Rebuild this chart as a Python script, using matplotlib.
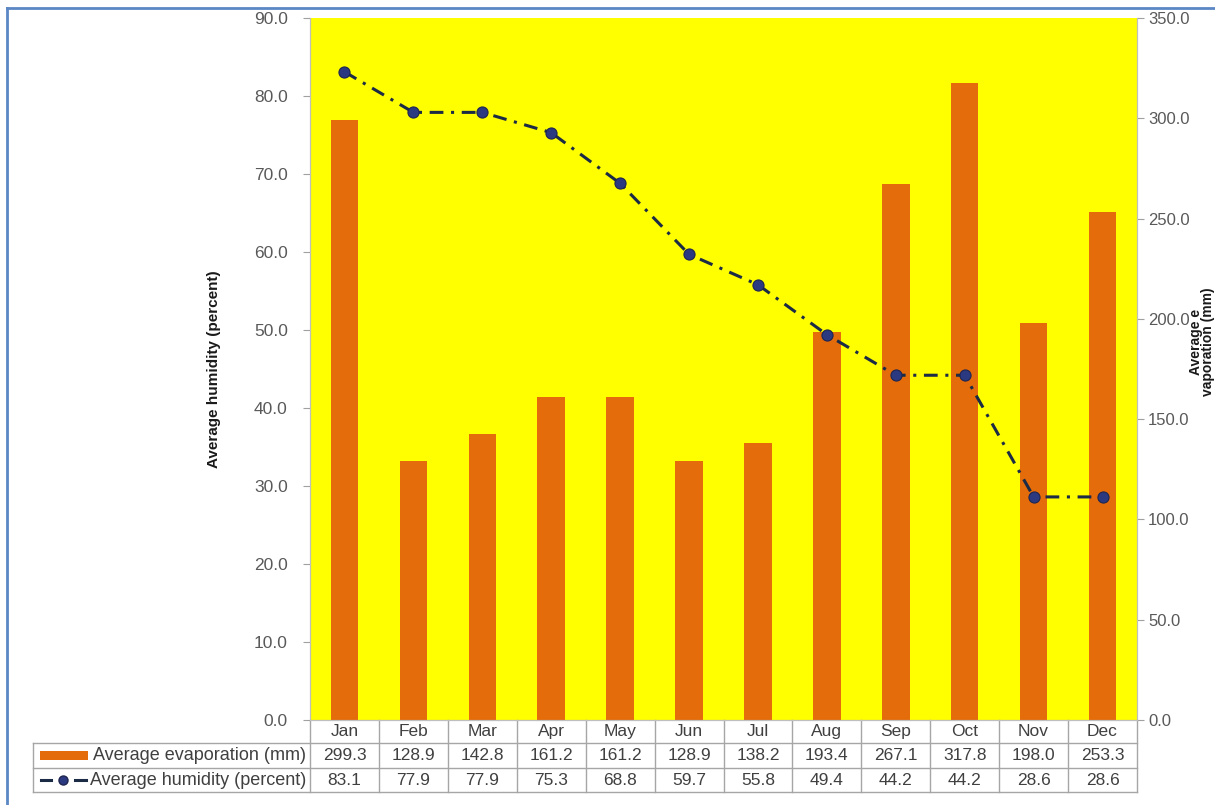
import matplotlib
matplotlib.use("Agg")
import matplotlib.pyplot as plt
from matplotlib.ticker import FormatStrFormatter, MultipleLocator
from matplotlib.transforms import blended_transform_factory
from matplotlib.lines import Line2D
from matplotlib.patches import Rectangle

plt.rcParams['font.family'] = ['Liberation Sans', 'DejaVu Sans']

months = ["Jan", "Feb", "Mar", "Apr", "May", "Jun", "Jul", "Aug", "Sep", "Oct", "Nov", "Dec"]
evaporation = [299.3, 128.9, 142.8, 161.2, 161.2, 128.9, 138.2, 193.4, 267.1, 317.8, 198.0, 253.3]
humidity = [83.1, 77.9, 77.9, 75.3, 68.8, 59.7, 55.8, 49.4, 44.2, 44.2, 28.6, 28.6]
evap_label = "Average evaporation (mm)"
hum_label = "Average humidity (percent)"

W, H = 1215, 805
fig = plt.figure(figsize=(W / 100, H / 100), dpi=100)

def fx(px):
    return px / W

def fy(py):
    return 1 - py / H

BAR_COLOR = "#E46C0A"
LINE_COLOR = "#1B2A45"
MARK_COLOR = "#2B3A80"
GRID_GRAY = "#A6A6A6"
TXT = "#404040"
TICK_TXT = "#595959"

left, right, top, bottom = 310, 1137, 18, 720
ax = fig.add_axes([fx(left), fy(bottom), fx(right - left), (bottom - top) / H])
ax.set_facecolor("#FFFF00")

x = list(range(len(months)))
ax.bar(x, evaporation, width=0.4, color=BAR_COLOR, zorder=2)
ax.set_xlim(-0.5, len(months) - 0.5)
ax.set_ylim(0, 350)
ax.yaxis.set_major_locator(MultipleLocator(50))
ax.yaxis.set_major_formatter(FormatStrFormatter("%.1f"))
ax.set_xticks([])

axh = ax.twinx()
# evaporation scale on the right, humidity scale on the left
ax.yaxis.tick_right()
axh.yaxis.tick_left()
axh.yaxis.set_label_position("left")

axh.plot(x, humidity, color=LINE_COLOR, lw=2.2, dashes=[4.5, 2.5, 1, 2.5],
         marker="o", markersize=8, markerfacecolor=MARK_COLOR,
         markeredgecolor="#1F2550", markeredgewidth=0.8, zorder=3)
axh.set_ylim(0, 90)
axh.yaxis.set_major_locator(MultipleLocator(10))
axh.yaxis.set_major_formatter(FormatStrFormatter("%.1f"))

for a in (ax, axh):
    for s in a.spines.values():
        s.set_color("#BFBFBF")
        s.set_linewidth(0.8)
    a.spines["top"].set_visible(False)
    a.tick_params(axis="y", length=5, width=0.8, color="#A0A0A0",
                  labelcolor=TICK_TXT, labelsize=12.5)
ax.tick_params(axis="y", pad=3, labelsize=12)
axh.tick_params(axis="y", pad=11)
ax.spines["bottom"].set_color(GRID_GRAY)

axh.set_ylabel("Average humidity (percent)", fontsize=11, fontweight="bold",
               color="#1A1A1A")
axh.yaxis.set_label_coords((221 - left) / (right - left), 0.50)
fig.text(fx(1202), fy(342), "Average e\nvaporation (mm)", rotation=90,
         ha="center", va="center", multialignment="center",
         fontsize=10, fontweight="bold", color="#1A1A1A", linespacing=0.9)

# data table beneath the plot
ph = bottom - top
def ay(py):
    return (bottom - py) / ph

cell_tr = blended_transform_factory(ax.transData, ax.transAxes)
lab_tr = blended_transform_factory(fig.transFigure, ax.transAxes)
rows_y = [720, 743, 768, 792]
tab_left = 33

for yy in rows_y[1:]:
    ax.add_line(Line2D([fx(tab_left), fx(right)], [ay(yy), ay(yy)], transform=lab_tr,
                       color=GRID_GRAY, lw=1, clip_on=False))
ax.add_line(Line2D([fx(tab_left), fx(tab_left)], [ay(743), ay(792)], transform=lab_tr,
                   color=GRID_GRAY, lw=1, clip_on=False))
for i in range(len(months) + 1):
    xb = i - 0.5
    ax.add_line(Line2D([xb, xb], [ay(720), ay(792)], transform=cell_tr,
                       color=GRID_GRAY, lw=1, clip_on=False))

for i, m in enumerate(months):
    ax.text(i, ay(731.5), m, transform=cell_tr, ha="center", va="center",
            fontsize=12.5, color=TXT, clip_on=False)
    ax.text(i, ay(755.5), f"{evaporation[i]:.1f}", transform=cell_tr, ha="center",
            va="center", fontsize=12.5, color=TXT, clip_on=False)
    ax.text(i, ay(780), f"{humidity[i]:.1f}", transform=cell_tr, ha="center",
            va="center", fontsize=12.5, color=TXT, clip_on=False)

# row labels with legend keys
ax.add_patch(Rectangle((fx(40), ay(760)), fx(48), ay(751) - ay(760), transform=lab_tr,
                       facecolor=BAR_COLOR, edgecolor="none", clip_on=False))
ax.add_line(Line2D([fx(41), fx(51)], [ay(780), ay(780)], transform=lab_tr,
                   color=LINE_COLOR, lw=2.2, clip_on=False))
ax.add_line(Line2D([fx(75), fx(86)], [ay(780), ay(780)], transform=lab_tr,
                   color=LINE_COLOR, lw=2.2, clip_on=False))
ax.add_line(Line2D([fx(63)], [ay(780)], transform=lab_tr, marker="o", markersize=6.5,
                   markerfacecolor=MARK_COLOR, markeredgecolor="#1F2550",
                   linestyle="none", clip_on=False))
ax.text(fx(306), ay(755.5), evap_label, transform=lab_tr, ha="right", va="center",
        fontsize=13, color=TXT, clip_on=False)
ax.text(fx(306), ay(780), hum_label, transform=lab_tr, ha="right", va="center",
        fontsize=13, color=TXT, clip_on=False)

# frame around the figure
fig.add_artist(Line2D([fx(7), fx(7)], [fy(8), fy(805)], color="#5B87C5", lw=2))
fig.add_artist(Line2D([fx(7), fx(1215)], [fy(8), fy(8)], color="#5B87C5", lw=2))

fig.savefig("out.png", dpi=100, facecolor="white")
